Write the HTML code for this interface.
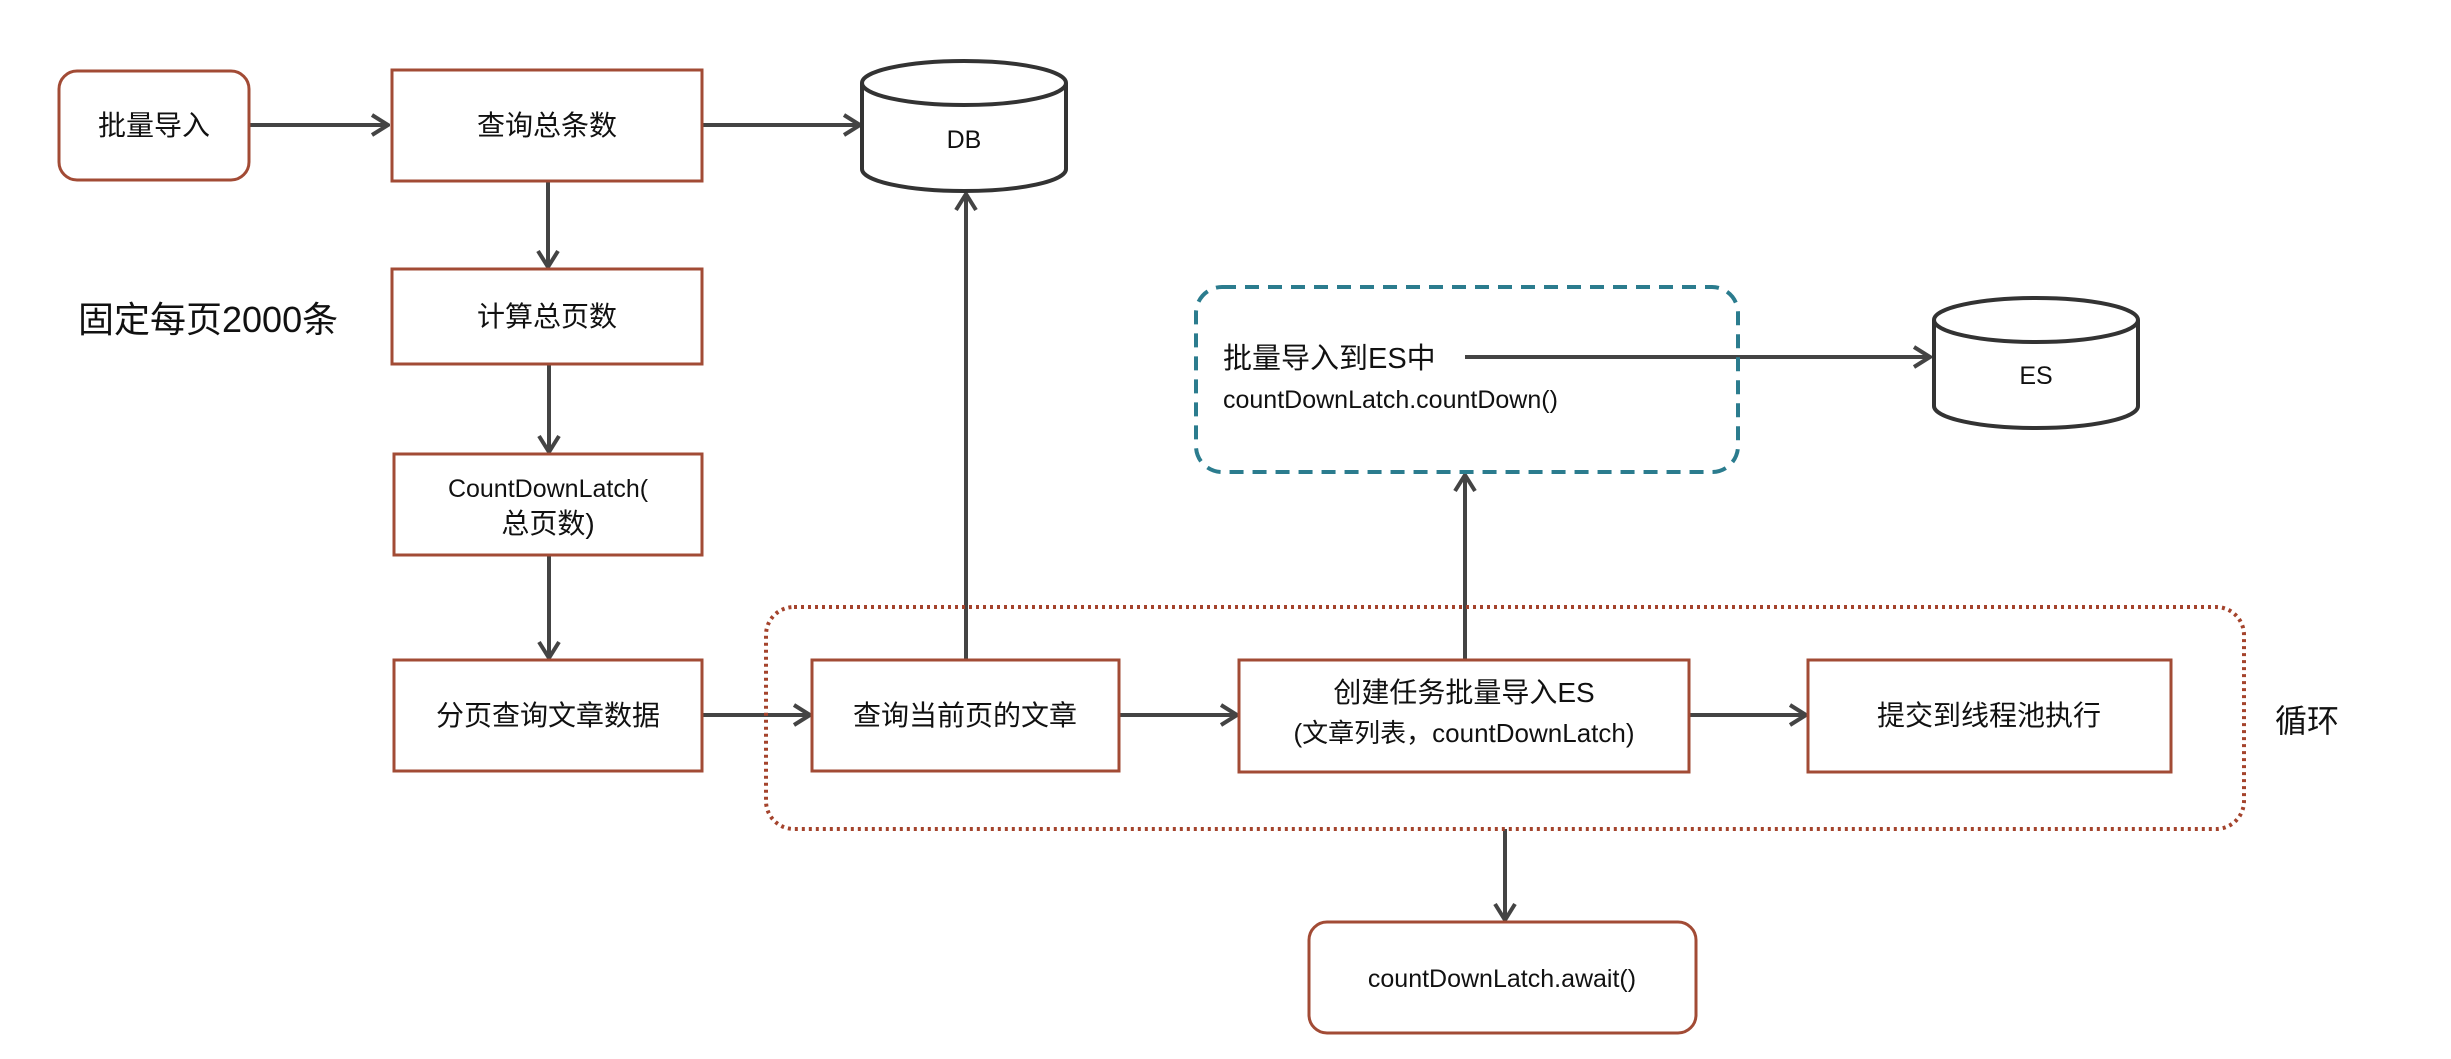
<!DOCTYPE html>
<html><head><meta charset="utf-8"><style>
html,body{margin:0;padding:0;background:#fff;}
svg{display:block;}
text{font-family:"Liberation Sans","Noto Sans CJK SC",sans-serif;fill:#111;}
</style></head><body>
<svg width="2451" height="1059" viewBox="0 0 2451 1059" xmlns="http://www.w3.org/2000/svg">
<defs>
<marker id="a" markerWidth="20" markerHeight="24" refX="18" refY="12" orient="auto" markerUnits="userSpaceOnUse" viewBox="0 0 20 24">
<path d="M2,2 L18,12 L2,22" fill="none" stroke="#444" stroke-width="4"/>
</marker>
</defs>
<g fill="none" stroke="#444" stroke-width="4">
<line x1="250" y1="125" x2="388" y2="125" marker-end="url(#a)"/>
<line x1="703" y1="125" x2="860" y2="125" marker-end="url(#a)"/>
<line x1="548" y1="181" x2="548" y2="267" marker-end="url(#a)"/>
<line x1="549" y1="364" x2="549" y2="452" marker-end="url(#a)"/>
<line x1="549" y1="555" x2="549" y2="658" marker-end="url(#a)"/>
<line x1="702" y1="715" x2="810" y2="715" marker-end="url(#a)"/>
<line x1="966" y1="660" x2="966" y2="194" marker-end="url(#a)"/>
<line x1="1119" y1="715" x2="1237" y2="715" marker-end="url(#a)"/>
<line x1="1689" y1="715" x2="1806" y2="715" marker-end="url(#a)"/>
<line x1="1465" y1="660" x2="1465" y2="475" marker-end="url(#a)"/>
<line x1="1465" y1="357" x2="1930" y2="357" marker-end="url(#a)"/>
<line x1="1505" y1="829" x2="1505" y2="920" marker-end="url(#a)"/>
</g>
<rect x="766" y="607" width="1478" height="222" rx="28" fill="none" stroke="#a4432c" stroke-width="4" stroke-dasharray="3 4"/>
<rect x="1196" y="287" width="542" height="185" rx="26" fill="none" stroke="#2b7c8e" stroke-width="4" stroke-dasharray="14 9"/>
<g fill="#fff" stroke="#a24b35" stroke-width="3">
<rect x="59" y="71" width="190" height="109" rx="18"/>
<rect x="392" y="70" width="310" height="111"/>
<rect x="392" y="269" width="310" height="95"/>
<rect x="394" y="454" width="308" height="101"/>
<rect x="394" y="660" width="308" height="111"/>
<rect x="812" y="660" width="307" height="111"/>
<rect x="1239" y="660" width="450" height="112"/>
<rect x="1808" y="660" width="363" height="112"/>
<rect x="1309" y="922" width="387" height="111" rx="18"/>
</g>
<g fill="#fff" stroke="#333" stroke-width="4">
<path d="M862,83 L862,169 A102,22 0 0 0 1066,169 L1066,83"/>
<ellipse cx="964" cy="83" rx="102" ry="22"/>
<path d="M1934,320 L1934,406 A102,22 0 0 0 2138,406 L2138,320"/>
<ellipse cx="2036" cy="320" rx="102" ry="22"/>
</g>
<g font-size="28" text-anchor="middle">
<text x="154" y="135">批量导入</text>
<text x="547" y="135">查询总条数</text>
<text x="547" y="326">计算总页数</text>
<text x="548" y="497" font-size="25">CountDownLatch(</text>
<text x="548" y="533">总页数)</text>
<text x="548" y="725">分页查询文章数据</text>
<text x="965" y="725">查询当前页的文章</text>
<text x="1464" y="702">创建任务批量导入ES</text>
<text x="1464" y="742" font-size="26">(文章列表，countDownLatch)</text>
<text x="1989" y="725">提交到线程池执行</text>
<text x="1502" y="987" font-size="25">countDownLatch.await()</text>
<text x="964" y="148" font-size="25">DB</text>
<text x="2036" y="384" font-size="25">ES</text>
</g>
<text x="78" y="332" font-size="36">固定每页2000条</text>
<text x="2275" y="732" font-size="32">循环</text>
<text x="1223" y="368" font-size="29">批量导入到ES中</text>
<text x="1223" y="408" font-size="25">countDownLatch.countDown()</text>
</svg>
</body></html>
